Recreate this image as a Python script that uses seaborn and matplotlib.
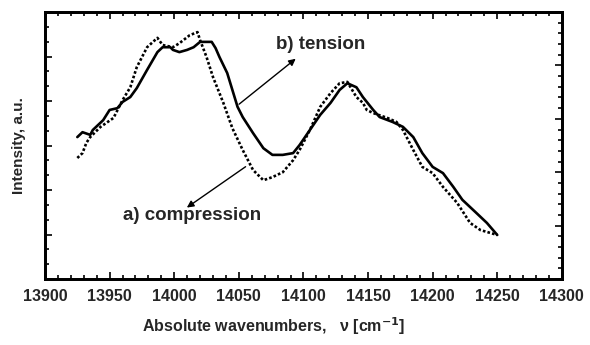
import numpy as np
import pandas as pd
import matplotlib
matplotlib.use("Agg")
import matplotlib.pyplot as plt
from matplotlib.ticker import MultipleLocator, NullFormatter
import seaborn as sns

# b) tension (solid)
tension_x = [13925, 13929, 13935, 13937, 13945, 13950, 13956, 13960, 13966, 13971,
             13979, 13987, 13991, 13997, 13999, 14004, 14010, 14015, 14020, 14025,
             14029, 14032, 14035, 14041, 14045, 14049, 14053, 14061, 14069, 14076,
             14084, 14092, 14097, 14105, 14113, 14121, 14128, 14134, 14141, 14146,
             14154, 14159, 14169, 14177, 14185, 14192, 14200, 14208, 14216, 14223,
             14234, 14242, 14250]
tension_y = [3.19, 3.30, 3.24, 3.35, 3.57, 3.80, 3.84, 3.98, 4.09, 4.29,
             4.70, 5.10, 5.21, 5.21, 5.15, 5.10, 5.15, 5.21, 5.33, 5.33,
             5.33, 5.19, 4.99, 4.63, 4.25, 3.87, 3.64, 3.28, 2.94, 2.79,
             2.79, 2.83, 3.01, 3.35, 3.69, 3.96, 4.25, 4.40, 4.31, 4.09,
             3.80, 3.64, 3.53, 3.42, 3.19, 2.83, 2.52, 2.38, 2.07, 1.78,
             1.48, 1.26, 0.99]

# a) compression (dotted)
compression_x = [13925, 13929, 13932, 13935, 13943, 13953, 13960, 13966, 13971, 13979,
                 13987, 13991, 13999, 14004, 14012, 14018, 14020, 14025, 14030, 14038,
                 14045, 14053, 14061, 14069, 14076, 14084, 14092, 14097, 14105, 14113,
                 14121, 14128, 14134, 14141, 14146, 14149, 14154, 14165, 14172, 14177,
                 14185, 14192, 14200, 14208, 14219, 14229, 14237, 14250]
compression_y = [2.72, 2.83, 3.06, 3.19, 3.42, 3.62, 4.02, 4.31, 4.76, 5.21,
                 5.42, 5.26, 5.21, 5.30, 5.48, 5.55, 5.37, 4.99, 4.54, 3.96,
                 3.39, 2.90, 2.45, 2.22, 2.29, 2.40, 2.67, 2.90, 3.35, 3.87,
                 4.18, 4.40, 4.43, 4.09, 3.96, 3.80, 3.73, 3.62, 3.53, 3.35,
                 2.90, 2.52, 2.38, 2.07, 1.71, 1.26, 1.10, 0.99]

df = pd.concat([
    pd.DataFrame({"wn": tension_x, "I": tension_y, "state": "tension"}),
    pd.DataFrame({"wn": compression_x, "I": compression_y, "state": "compression"}),
])

sns.set_style("ticks")
plt.rcParams['font.family'] = ['Liberation Sans', 'DejaVu Sans']

fig = plt.figure(figsize=(5.9, 3.45), dpi=100)
ax = fig.add_axes([0.0763, 0.1913, 0.876, 0.7737])

sns.lineplot(data=df, x="wn", y="I", style="state",
             dashes={"tension": "", "compression": (1, 0.8)},
             color="black", linewidth=1.9, legend=False, ax=ax, sort=False)

ax.set_xlim(13900, 14300)
ax.set_ylim(0, 6)
ax.xaxis.set_major_locator(MultipleLocator(50))
ax.xaxis.set_minor_locator(MultipleLocator(10))
ax.yaxis.set_major_locator(MultipleLocator(1))
ax.yaxis.set_minor_locator(MultipleLocator(1 / 3))
ax.yaxis.set_major_formatter(NullFormatter())
ax.tick_params(which="both", direction="in", top=True, right=False, width=1.2, color="black")
ax.tick_params(which="major", length=5)
ax.tick_params(which="minor", length=3)
ax.tick_params(axis="x", which="major", pad=7.5)
for lbl in ax.get_xticklabels():
    lbl.set_fontweight("bold")
    lbl.set_fontsize(11.5)

# right side has its own tick spacing
ax2 = ax.twinx()
ax2.set_ylim(0, 5)
ax2.yaxis.set_major_locator(MultipleLocator(1))
ax2.yaxis.set_minor_locator(MultipleLocator(0.2))
ax2.yaxis.set_major_formatter(NullFormatter())
ax2.tick_params(which="both", direction="in", right=True, width=1.2, color="black")
ax2.tick_params(which="major", length=5)
ax2.tick_params(which="minor", length=3)

for a in (ax, ax2):
    for s in a.spines.values():
        s.set_linewidth(2)
        s.set_color("black")

ax.set_xlabel("Absolute wavenumbers,   \u03bd [cm$^{\\mathbf{-1}}$]",
              fontsize=11.5, fontweight="bold")
ax.xaxis.set_label_coords(0.443, -0.135)
ax.set_ylabel("Intensity, a.u.", fontsize=11, fontweight="bold", labelpad=10)

ax.annotate("", xy=(14095.7, 4.99), xytext=(14048.5, 3.89),
            arrowprops=dict(arrowstyle="-|>", color="black", lw=1, mutation_scale=10))
ax.annotate("", xy=(14008, 1.57), xytext=(14057, 2.56),
            arrowprops=dict(arrowstyle="-|>", color="black", lw=1, mutation_scale=10))
ax.text(14113.5, 5.26, "b) tension", fontsize=13.5, fontweight="bold",
        ha="center", va="center")
ax.text(14013.7, 1.42, "a) compression", fontsize=13.5, fontweight="bold",
        ha="center", va="center")

fig.savefig("out.png", dpi=100)
